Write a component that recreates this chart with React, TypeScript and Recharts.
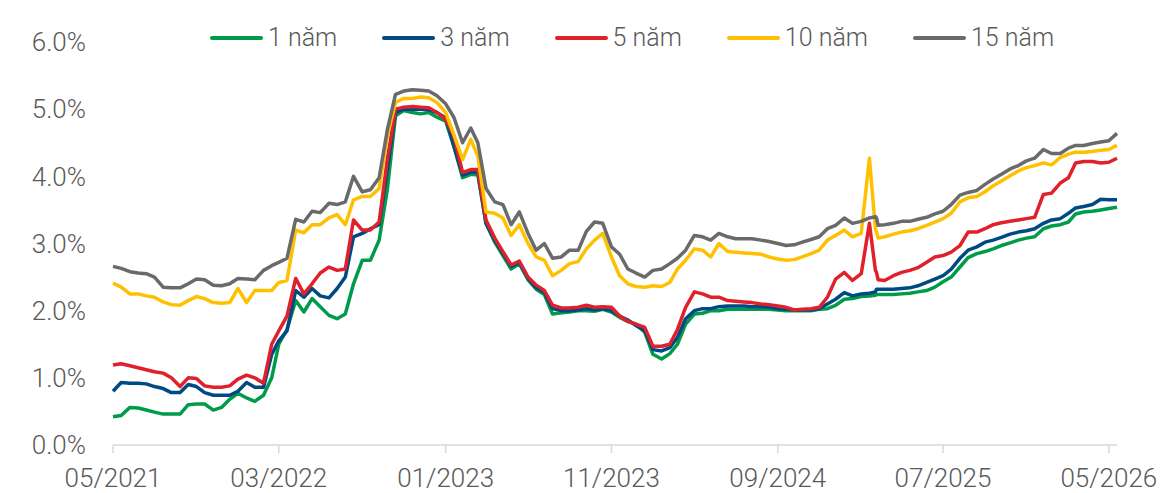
import { LineChart, Line, XAxis, YAxis, Legend } from "recharts";

// roughly half-month sampling, 05/2021 -> 05/2026 (extra days around the 03/2025 spike)
const dates = [
  "2021-05-01", "2021-05-16", "2021-06-01", "2021-06-16", "2021-07-01", "2021-07-16", "2021-08-01", "2021-08-16",
  "2021-09-01", "2021-09-16", "2021-10-01", "2021-10-16", "2021-11-01", "2021-11-16", "2021-12-01", "2021-12-16",
  "2022-01-01", "2022-01-16", "2022-02-01", "2022-02-16", "2022-03-01", "2022-03-16", "2022-04-01", "2022-04-16",
  "2022-05-01", "2022-05-16", "2022-06-01", "2022-06-16", "2022-07-01", "2022-07-16", "2022-08-01", "2022-08-16",
  "2022-09-01", "2022-09-16", "2022-10-01", "2022-10-16", "2022-11-01", "2022-11-16", "2022-12-01", "2022-12-16",
  "2023-01-01", "2023-01-16", "2023-02-01", "2023-02-16", "2023-03-01", "2023-03-16", "2023-04-01", "2023-04-16",
  "2023-05-01", "2023-05-16", "2023-06-01", "2023-06-16", "2023-07-01", "2023-07-16", "2023-08-01", "2023-08-16",
  "2023-09-01", "2023-09-16", "2023-10-01", "2023-10-16", "2023-11-01", "2023-11-16", "2023-12-01", "2023-12-16",
  "2024-01-01", "2024-01-16", "2024-02-01", "2024-02-16", "2024-03-01", "2024-03-16", "2024-04-01", "2024-04-16",
  "2024-05-01", "2024-05-16", "2024-06-01", "2024-06-16", "2024-07-01", "2024-07-16", "2024-08-01", "2024-08-16",
  "2024-09-01", "2024-09-16", "2024-10-01", "2024-10-16", "2024-11-01", "2024-11-16", "2024-12-01", "2024-12-16",
  "2025-01-01", "2025-01-16", "2025-02-01", "2025-02-16", "2025-02-27", "2025-03-01", "2025-03-04", "2025-03-16",
  "2025-04-01", "2025-04-16",
  "2025-05-01", "2025-05-16", "2025-06-01", "2025-06-16", "2025-07-01", "2025-07-16", "2025-08-01", "2025-08-16",
  "2025-09-01", "2025-09-16", "2025-10-01", "2025-10-16", "2025-11-01", "2025-11-16", "2025-12-01", "2025-12-16",
  "2026-01-01", "2026-01-16", "2026-02-01", "2026-02-16", "2026-03-01", "2026-03-16", "2026-04-01", "2026-04-16",
  "2026-05-01", "2026-05-16",
];

const y1 = [
  0.42, 0.44, 0.56, 0.55, 0.52, 0.49, 0.46, 0.46, 0.46, 0.6,
  0.61, 0.61, 0.52, 0.56, 0.68, 0.77, 0.7, 0.65, 0.74, 1.0,
  1.5, 1.72, 2.15, 1.98, 2.18, 2.06, 1.93, 1.88, 1.95, 2.4,
  2.75, 2.75, 3.05, 3.8, 4.9, 4.98, 4.95, 4.93, 4.95, 4.88,
  4.82, 4.45, 3.98, 4.03, 4.02, 3.3, 3.02, 2.82, 2.62, 2.7,
  2.46, 2.32, 2.24, 1.95, 1.97, 1.98, 2.0, 2.0, 1.99, 2.02,
  1.98, 1.9, 1.84, 1.8, 1.68, 1.35, 1.28, 1.36, 1.5, 1.8,
  1.95, 1.96, 2.0, 2.0, 2.02, 2.02, 2.02, 2.02, 2.02, 2.02,
  2.01, 2.0, 2.0, 2.0, 2.0, 2.02, 2.03, 2.08, 2.17, 2.18,
  2.21, 2.22, 2.23, 2.24, 2.24, 2.24, 2.24, 2.25, 2.26, 2.28, 2.3, 2.35,
  2.43, 2.5, 2.65, 2.79, 2.85, 2.88, 2.92, 2.97, 3.01, 3.05,
  3.08, 3.1, 3.22, 3.26, 3.28, 3.32, 3.44, 3.47, 3.48, 3.5,
  3.52, 3.54,
];

const y3 = [
  0.8, 0.93, 0.92, 0.92, 0.91, 0.87, 0.84, 0.78, 0.78, 0.9,
  0.87, 0.78, 0.74, 0.74, 0.74, 0.8, 0.93, 0.86, 0.86, 1.35,
  1.55, 1.7, 2.3, 2.2, 2.33, 2.22, 2.19, 2.33, 2.5, 3.1,
  3.15, 3.22, 3.28, 4.1, 4.95, 5.0, 5.0, 5.0, 4.99, 4.95,
  4.87, 4.45, 4.02, 4.06, 4.06, 3.3, 3.05, 2.85, 2.66, 2.72,
  2.48, 2.34, 2.27, 2.03, 2.0, 2.0, 2.01, 2.03, 2.01, 2.03,
  2.0, 1.92, 1.86, 1.78, 1.7, 1.42, 1.4, 1.45, 1.6, 1.88,
  2.0, 2.03, 2.03, 2.06, 2.07, 2.07, 2.07, 2.06, 2.06, 2.05,
  2.03, 2.02, 2.01, 2.01, 2.01, 2.03, 2.1, 2.17, 2.27, 2.22,
  2.25, 2.26, 2.28, 2.32, 2.32, 2.32, 2.32, 2.33, 2.34, 2.37, 2.42, 2.47,
  2.52, 2.62, 2.78, 2.9, 2.95, 3.02, 3.05, 3.09, 3.14, 3.17,
  3.19, 3.22, 3.3, 3.35, 3.37, 3.45, 3.53, 3.55, 3.58, 3.66,
  3.65, 3.65,
];

const y5 = [
  1.19, 1.21, 1.18, 1.15, 1.12, 1.09, 1.07, 1.0, 0.87, 1.0,
  0.99, 0.88, 0.86, 0.86, 0.88, 0.98, 1.04, 1.0, 0.92, 1.5,
  1.7, 1.92, 2.48, 2.25, 2.4, 2.56, 2.65, 2.6, 2.62, 3.35,
  3.2, 3.2, 3.32, 4.25, 5.0, 5.03, 5.04, 5.03, 5.02, 4.95,
  4.85, 4.6, 4.06, 4.1, 4.1, 3.35, 3.08, 2.88, 2.68, 2.74,
  2.5, 2.38, 2.3, 2.08, 2.04, 2.04, 2.05, 2.08, 2.05, 2.06,
  2.05, 1.92, 1.84, 1.8, 1.75, 1.47, 1.47, 1.5, 1.72, 2.05,
  2.28, 2.25, 2.2, 2.2, 2.15, 2.14, 2.13, 2.12, 2.1, 2.09,
  2.07, 2.05, 2.01, 2.02, 2.03, 2.05, 2.2, 2.47, 2.57, 2.45,
  2.55, 3.3, 2.6, 2.57, 2.46, 2.45, 2.52, 2.57, 2.6, 2.64, 2.72, 2.8,
  2.82, 2.87, 2.97, 3.17, 3.17, 3.22, 3.28, 3.31, 3.33, 3.35,
  3.37, 3.39, 3.73, 3.75, 3.9, 3.98, 4.2, 4.22, 4.22, 4.2,
  4.21, 4.27,
];

const y10 = [
  2.41, 2.35, 2.25, 2.25, 2.22, 2.2, 2.13, 2.09, 2.08, 2.15,
  2.21, 2.18, 2.12, 2.11, 2.12, 2.33, 2.12, 2.3, 2.3, 2.3,
  2.42, 2.45, 3.2, 3.16, 3.28, 3.28, 3.38, 3.43, 3.28, 3.65,
  3.7, 3.7, 3.82, 4.6, 5.1, 5.16, 5.16, 5.18, 5.17, 5.1,
  4.95, 4.62, 4.25, 4.55, 4.3, 3.47, 3.45, 3.38, 3.12, 3.28,
  3.0, 2.8, 2.75, 2.52, 2.6, 2.7, 2.73, 2.92, 3.05, 3.15,
  2.8, 2.52, 2.4, 2.36, 2.35, 2.37, 2.36, 2.42, 2.62, 2.75,
  2.92, 2.9, 2.8, 3.0, 2.88, 2.87, 2.86, 2.85, 2.84, 2.8,
  2.77, 2.75, 2.76, 2.8, 2.85, 2.9, 3.05, 3.12, 3.2, 3.1,
  3.15, 4.27, 3.22, 3.17, 3.08, 3.1, 3.14, 3.17, 3.19, 3.22, 3.27, 3.32,
  3.37, 3.45, 3.62, 3.68, 3.7, 3.77, 3.86, 3.93, 4.01, 4.08,
  4.13, 4.16, 4.2, 4.17, 4.28, 4.33, 4.36, 4.36, 4.37, 4.39,
  4.4, 4.46,
];

const y15 = [
  2.66, 2.63, 2.58, 2.56, 2.55, 2.5, 2.35, 2.34, 2.34, 2.4,
  2.47, 2.46, 2.38, 2.37, 2.4, 2.48, 2.47, 2.46, 2.6, 2.67,
  2.72, 2.78, 3.36, 3.32, 3.48, 3.46, 3.6, 3.58, 3.62, 4.0,
  3.77, 3.8, 3.98, 4.69, 5.22, 5.27, 5.29, 5.28, 5.27, 5.2,
  5.08, 4.88, 4.5, 4.72, 4.5, 3.82, 3.62, 3.58, 3.28, 3.47,
  3.15, 2.9, 3.0, 2.78, 2.8, 2.9, 2.9, 3.18, 3.32, 3.3,
  2.95, 2.84, 2.62, 2.56, 2.5, 2.6, 2.62, 2.7, 2.78, 2.9,
  3.12, 3.1, 3.05, 3.15, 3.1, 3.07, 3.07, 3.07, 3.05, 3.03,
  3.0, 2.97, 2.98, 3.02, 3.06, 3.1, 3.22, 3.27, 3.38, 3.3,
  3.33, 3.38, 3.4, 3.38, 3.27, 3.28, 3.3, 3.33, 3.33, 3.36, 3.39, 3.44,
  3.48, 3.58, 3.72, 3.76, 3.79, 3.88, 3.96, 4.03, 4.11, 4.16,
  4.23, 4.27, 4.4, 4.34, 4.34, 4.42, 4.46, 4.46, 4.49, 4.51,
  4.53, 4.64,
];

const xTicks = ["2021-05-01", "2022-03-01", "2023-01-01", "2023-11-01", "2024-09-01", "2025-07-01", "2026-05-01"];
const yTicks = [0, 1, 2, 3, 4, 5, 6];

const series = [
  { key: "y1", name: "1 năm", color: "#009b4a" },
  { key: "y3", name: "3 năm", color: "#004a84" },
  { key: "y5", name: "5 năm", color: "#e0202b" },
  { key: "y10", name: "10 năm", color: "#ffc000" },
  { key: "y15", name: "15 năm", color: "#6a6a6a" },
];

const data = dates.map((d, i) => ({
  t: Date.parse(d),
  y1: y1[i],
  y3: y3[i],
  y5: y5[i],
  y10: y10[i],
  y15: y15[i],
}));

const TEXT = "#595959";
const FONT = "Roboto, 'Noto Sans', sans-serif";

function LegendRow() {
  return (
    <div style={{ display: "flex", alignItems: "center", paddingLeft: 210, height: 30, fontFamily: FONT }}>
      {series.map((s) => (
        <div key={s.key} style={{ display: "flex", alignItems: "center", marginRight: 45 }}>
          <span style={{ display: "inline-block", width: 53, height: 4, borderRadius: 2, background: s.color, marginRight: 5 }} />
          <span style={{ fontSize: 25, fontWeight: 300, color: TEXT, lineHeight: "30px" }}>{s.name}</span>
        </div>
      ))}
    </div>
  );
}

const fmtDate = (v: number) => {
  const dt = new Date(v);
  return `${String(dt.getUTCMonth() + 1).padStart(2, "0")}/${dt.getUTCFullYear()}`;
};

export default function App() {
  return (
    <div style={{ position: "absolute", left: 0, top: 0, width: 1175, height: 493, background: "#fff" }}>
      <LineChart
        width={1175}
        height={493}
        data={data}
        margin={{ top: 42, right: 58, bottom: 8, left: 23 }}
        style={{ fontFamily: FONT }}
      >
        <XAxis
          dataKey="t"
          type="number"
          domain={["dataMin", "dataMax"]}
          ticks={xTicks.map((d) => Date.parse(d))}
          interval={0}
          tickFormatter={fmtDate}
          height={40}
          tickSize={8}
          tickMargin={16}
          stroke="#d9d9d9"
          strokeWidth={1.5}
          tick={{ fontSize: 26, fontWeight: 300, fill: TEXT }}
        />
        <YAxis
          domain={[0, 6]}
          ticks={yTicks}
          width={90}
          axisLine={false}
          tickLine={false}
          tickSize={0}
          tickMargin={27}
          tickFormatter={(v: number) => `${v.toFixed(1)}%`}
          tick={{ fontSize: 26, fontWeight: 300, fill: TEXT }}
        />
        <Legend
          verticalAlign="middle"
          align="center"
          layout="horizontal"
          content={<LegendRow />}
          wrapperStyle={{ top: 23, left: 0, width: 1175, height: 30 }}
        />
        {series.map((s) => (
          <Line
            key={s.key}
            type="linear"
            dataKey={s.key}
            name={s.name}
            stroke={s.color}
            strokeWidth={3.5}
            strokeLinejoin="round"
            dot={false}
            activeDot={false}
            isAnimationActive={false}
          />
        ))}
      </LineChart>
    </div>
  );
}
